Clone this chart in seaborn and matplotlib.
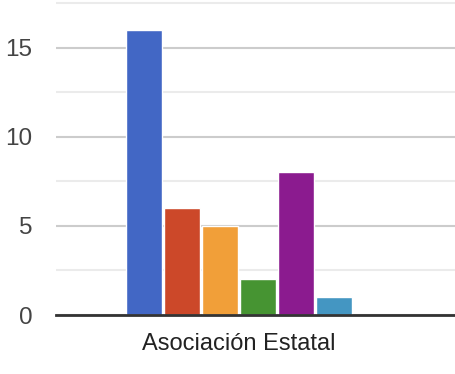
import matplotlib
matplotlib.use("Agg")
import matplotlib.pyplot as plt
import seaborn as sns
import pandas as pd

categories = ["Asociación Estatal"]
series = ["Serie 1", "Serie 2", "Serie 3", "Serie 4", "Serie 5", "Serie 6"]
values = [16, 6, 5, 2, 8, 1]
colors = ["#4267c5", "#cc4829", "#f19f39", "#469432", "#8b1b8f", "#4496c2"]
yticks = [0, 5, 10, 15]
minor_ticks = [2.5, 7.5, 12.5, 17.5]

df = pd.DataFrame({
    "cat": categories * len(series),
    "serie": series,
    "valor": values,
})

sns.set_theme(style="white")
plt.rcParams["font.family"] = ["Liberation Sans", "DejaVu Sans"]

fig = plt.figure(figsize=(4.56, 3.74), dpi=100)
ax = fig.add_axes([56 / 456, 59 / 374, 1 - 56 / 456, 1 - 59 / 374])

sns.barplot(data=df, x="cat", y="valor", hue="serie", palette=colors,
            width=0.8, gap=0.05, ax=ax, legend=False, saturation=1)

ax.set_xlim(-0.642, 0.761)
ax.set_ylim(0, 17.68)
ax.set_yticks(yticks)
ax.set_yticks(minor_ticks, minor=True)
ax.grid(axis="y", which="major", color="#cccccc", linewidth=1.5)
ax.grid(axis="y", which="minor", color="#ebebeb", linewidth=1.5)
ax.set_axisbelow(True)
for s in ["top", "right", "left"]:
    ax.spines[s].set_visible(False)
ax.spines["bottom"].set_color("#333333")
ax.spines["bottom"].set_linewidth(2)
ax.spines["bottom"].set_zorder(5)
ax.tick_params(axis="y", which="both", length=0, pad=17, labelsize=17.5, labelcolor="#444444")
ax.tick_params(axis="x", length=0, pad=13, labelsize=17, labelcolor="#222222")
ax.set_xlabel("")
ax.set_ylabel("")

fig.savefig("out.png", dpi=100)
